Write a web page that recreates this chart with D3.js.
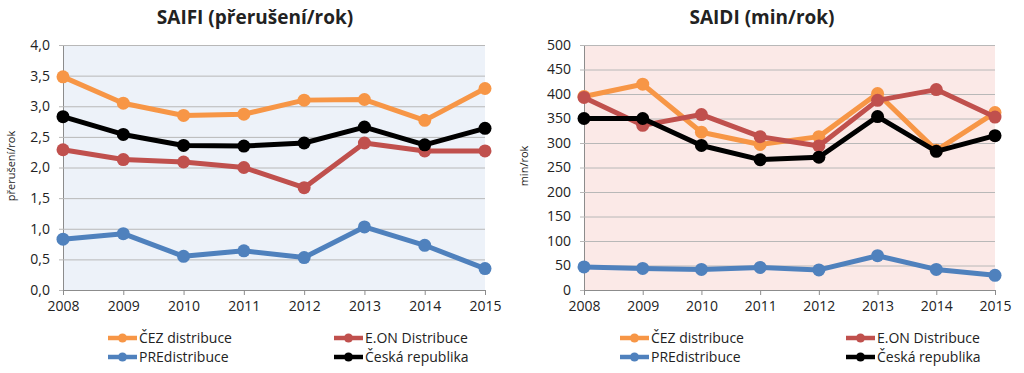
<!DOCTYPE html>
<html>
<head>
<meta charset="utf-8">
<script src="https://cdn.jsdelivr.net/npm/d3@7"></script>
<style>
  body { margin: 0; background: #fff; }
  svg text { font-family: "Open Sans", "Noto Sans", sans-serif; fill: #222; }
</style>
</head>
<body>
<div id="chart"></div>
<script>
// years on the x axis
const years = [2008, 2009, 2010, 2011, 2012, 2013, 2014, 2015];

// SAIFI (přerušení/rok)
const saifiCez = [3.48, 3.05, 2.85, 2.87, 3.10, 3.11, 2.77, 3.29];
const saifiEon = [2.29, 2.13, 2.09, 2.00, 1.67, 2.40, 2.27, 2.27];
const saifiPre = [0.83, 0.92, 0.55, 0.64, 0.53, 1.03, 0.73, 0.35];
const saifiCr  = [2.83, 2.54, 2.36, 2.35, 2.40, 2.66, 2.37, 2.64];

// SAIDI (min/rok)
const saidiCez = [395, 420, 322, 297, 313, 401, 285, 362];
const saidiEon = [393, 336, 358, 313, 294, 387, 409, 353];
const saidiPre = [47, 44, 42, 46, 41, 70, 42, 30];
const saidiCr  = [350, 350, 295, 266, 271, 354, 283, 315];

const seriesNames = ["ČEZ distribuce", "E.ON Distribuce", "PREdistribuce", "Česká republika"];
const seriesColors = ["#F79646", "#C0504D", "#4F81BD", "#000000"];

const width = 1024, height = 373;

const svg = d3.select("#chart")
    .append("svg")
    .attr("width", width)
    .attr("height", height);

function drawPanel(opts) {
    const g = svg.append("g").attr("transform", "translate(" + opts.offsetX + ",0)");

    const x = d3.scalePoint()
        .domain(years)
        .range([opts.x0, opts.x1]);

    const y = d3.scaleLinear()
        .domain([0, opts.yMax])
        .range([290, 45]);

    // plot area background
    g.append("rect")
        .attr("x", opts.x0)
        .attr("y", y(opts.yMax))
        .attr("width", opts.x1 - opts.x0)
        .attr("height", y(0) - y(opts.yMax))
        .attr("fill", opts.bg);

    // gridlines + y axis
    const yAxis = g.append("g")
        .attr("transform", "translate(" + opts.x0 + ",0)")
        .call(d3.axisLeft(y)
            .tickValues(opts.ticks)
            .tickSize(-(opts.x1 - opts.x0))
            .tickPadding(13)
            .tickFormat(opts.format));
    yAxis.select(".domain").attr("stroke", "#8c8c8c");
    yAxis.selectAll(".tick line").attr("stroke", "#b8b8b8").attr("x1", -4);
    yAxis.selectAll(".tick text").attr("font-size", 14).attr("fill", "#222");

    // x axis
    const xAxis = g.append("g")
        .attr("transform", "translate(0," + y(0) + ")")
        .call(d3.axisBottom(x).tickSize(5).tickPadding(6).tickSizeOuter(0));
    xAxis.select(".domain").attr("stroke", "#8c8c8c");
    xAxis.selectAll(".tick line").attr("stroke", "#8c8c8c");
    xAxis.selectAll(".tick text").attr("font-size", 14).attr("fill", "#222");

    // title
    g.append("text")
        .attr("x", opts.titleX)
        .attr("y", 24)
        .attr("text-anchor", "middle")
        .attr("font-size", 19)
        .attr("font-weight", "bold")
        .text(opts.title);

    // y label
    g.append("text")
        .attr("transform", "translate(" + opts.labelX + ",166) rotate(-90)")
        .attr("text-anchor", "middle")
        .attr("font-size", 11)
        .text(opts.yLabel);

    const line = d3.line()
        .x((d, i) => x(years[i]))
        .y(d => y(d));

    opts.series.forEach((s, k) => {
        g.append("path")
            .datum(s)
            .attr("fill", "none")
            .attr("stroke", seriesColors[k])
            .attr("stroke-width", 5)
            .attr("stroke-linejoin", "round")
            .attr("d", line);
        g.selectAll(null)
            .data(s)
            .join("circle")
            .attr("cx", (d, i) => x(years[i]))
            .attr("cy", d => y(d))
            .attr("r", 6.5)
            .attr("fill", seriesColors[k]);
    });

    // legend
    const legendPos = [[108, 338], [334, 338], [108, 357], [334, 357]];
    seriesNames.forEach((name, k) => {
        const lg = g.append("g")
            .attr("transform", "translate(" + legendPos[k][0] + "," + legendPos[k][1] + ")");
        lg.append("line")
            .attr("x1", 0).attr("x2", 29)
            .attr("stroke", seriesColors[k])
            .attr("stroke-width", 4.5);
        lg.append("circle")
            .attr("cx", 14.5)
            .attr("r", 4.5)
            .attr("fill", seriesColors[k]);
        lg.append("text")
            .attr("x", 31)
            .attr("dy", "0.35em")
            .attr("font-size", 14)
            .text(name);
    });
}

drawPanel({
    offsetX: 0,
    x0: 63, x1: 485,
    yMax: 4,
    ticks: d3.range(0, 4.01, 0.5),
    format: d => d3.format(".1f")(d).replace(".", ","),
    bg: "#EDF2F9",
    title: "SAIFI (přerušení/rok)",
    titleX: 255,
    yLabel: "přerušení/rok",
    labelX: 15,
    series: [saifiCez, saifiEon, saifiPre, saifiCr]
});

drawPanel({
    offsetX: 512,
    x0: 72, x1: 483,
    yMax: 500,
    ticks: d3.range(0, 501, 50),
    format: d3.format("d"),
    bg: "#FBE9E7",
    title: "SAIDI (min/rok)",
    titleX: 250,
    yLabel: "min/rok",
    labelX: 16,
    series: [saidiCez, saidiEon, saidiPre, saidiCr]
});
</script>
</body>
</html>
